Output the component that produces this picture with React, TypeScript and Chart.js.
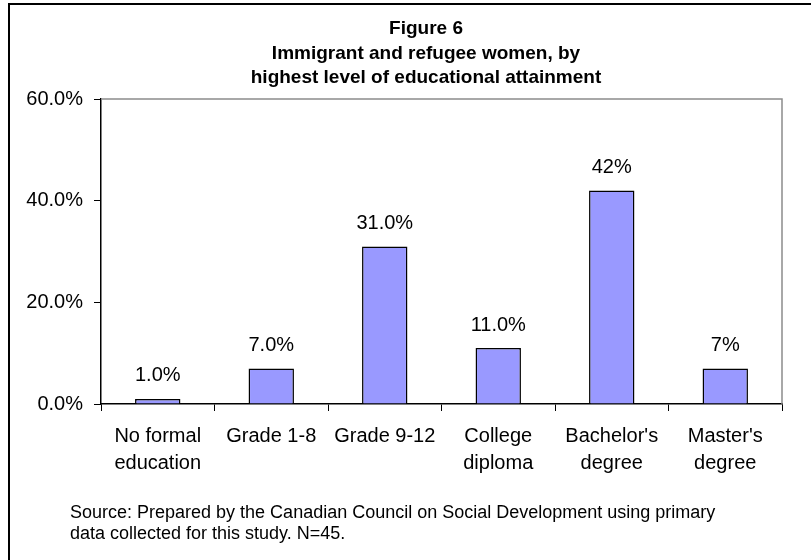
import React, { useEffect, useRef } from 'react';
import { Chart, registerables } from 'chart.js';

Chart.register(...registerables);

const categories: string[][] = [
  ['No formal', 'education'],
  ['Grade 1-8'],
  ['Grade 9-12'],
  ['College', 'diploma'],
  ["Bachelor's", 'degree'],
  ["Master's", 'degree'],
];
const values: number[] = [1, 7, 31, 11, 42, 7];
const valueLabels: string[] = ['1.0%', '7.0%', '31.0%', '11.0%', '42%', '7%'];
const titleLines: string[] = [
  'Figure 6',
  'Immigrant and refugee women, by',
  'highest level of educational attainment',
];
const sourceLines: string[] = [
  'Source: Prepared by the Canadian Council on Social Development using primary',
  'data collected for this study. N=45.',
];
const yMin = 0;
const yMax = 60;
const yStep = 20;

const FONT = '"Liberation Sans", Arial, Helvetica, sans-serif';

const decor = {
  id: 'decor',
  beforeDraw(chart: any) {
    const { ctx, width, height } = chart;
    ctx.save();
    ctx.fillStyle = '#ffffff';
    ctx.fillRect(0, 0, width, height);
    ctx.restore();
  },
  afterDraw(chart: any) {
    const { ctx } = chart;
    const { left, right, top, bottom } = chart.chartArea;
    ctx.save();
    // plot area border (top, right)
    ctx.strokeStyle = '#8c8c8c';
    ctx.lineWidth = 1.5;
    ctx.beginPath();
    ctx.moveTo(left, top);
    ctx.lineTo(right, top);
    ctx.lineTo(right, bottom);
    ctx.stroke();
    // outer frame
    ctx.fillStyle = '#000000';
    ctx.fillRect(8, 3, 803, 2);
    ctx.fillRect(8, 3, 2, 557);
    // title
    ctx.fillStyle = '#000000';
    ctx.font = `bold 19px ${FONT}`;
    ctx.textAlign = 'center';
    ctx.textBaseline = 'middle';
    titleLines.forEach((t, i) => ctx.fillText(t, 426, 29 + i * 24.5));
    // source
    ctx.font = `18px ${FONT}`;
    ctx.textAlign = 'left';
    sourceLines.forEach((t, i) => ctx.fillText(t, 70, 513 + i * 21));
    // value labels
    const meta = chart.getDatasetMeta(0);
    ctx.font = `20px ${FONT}`;
    ctx.textAlign = 'center';
    meta.data.forEach((bar: any, i: number) => {
      ctx.fillText(valueLabels[i], bar.x, bar.y - 23);
    });
    ctx.restore();
  },
};

export default function App() {
  const ref = useRef<HTMLCanvasElement | null>(null);

  useEffect(() => {
    if (!ref.current) return;
    const chart = new Chart(ref.current, {
      type: 'bar',
      data: {
        labels: categories,
        datasets: [
          {
            data: values,
            backgroundColor: '#9999ff',
            borderColor: '#000000',
            borderWidth: 1.5,
            barPercentage: 0.4,
            categoryPercentage: 1,
          },
        ],
      },
      options: {
        animation: false,
        responsive: false,
        devicePixelRatio: 1,
        layout: { padding: { left: 21, right: 29, top: 99, bottom: 86 } },
        plugins: {
          legend: { display: false },
          title: { display: false },
          tooltip: { enabled: false },
        },
        scales: {
          x: {
            grid: {
              display: true,
              drawOnChartArea: false,
              drawTicks: true,
              tickLength: 7,
              color: '#000000',
              offset: true,
            },
            border: { display: true, color: '#000000', width: 1.5 },
            ticks: {
              color: '#000000',
              font: { family: FONT, size: 20, lineHeight: 1.35 },
              padding: 12,
              maxRotation: 0,
              autoSkip: false,
            },
            afterFit(scale: any) {
              scale.height = 70;
            },
          },
          y: {
            min: yMin,
            max: yMax,
            grid: {
              display: true,
              drawOnChartArea: false,
              drawTicks: true,
              tickLength: 7,
              color: '#000000',
            },
            border: { display: true, color: '#000000', width: 1.5 },
            ticks: {
              stepSize: yStep,
              color: '#000000',
              font: { family: FONT, size: 20 },
              padding: 11,
              callback: (v: any) => Number(v).toFixed(1) + '%',
            },
            afterFit(scale: any) {
              scale.width = 80;
            },
          },
        },
      },
      plugins: [decor],
    });
    return () => chart.destroy();
  }, []);

  return (
    <div style={{ position: 'fixed', left: 0, top: 0, width: 811, height: 560, background: '#fff' }}>
      <canvas ref={ref} width={811} height={560} style={{ display: 'block' }} />
    </div>
  );
}
